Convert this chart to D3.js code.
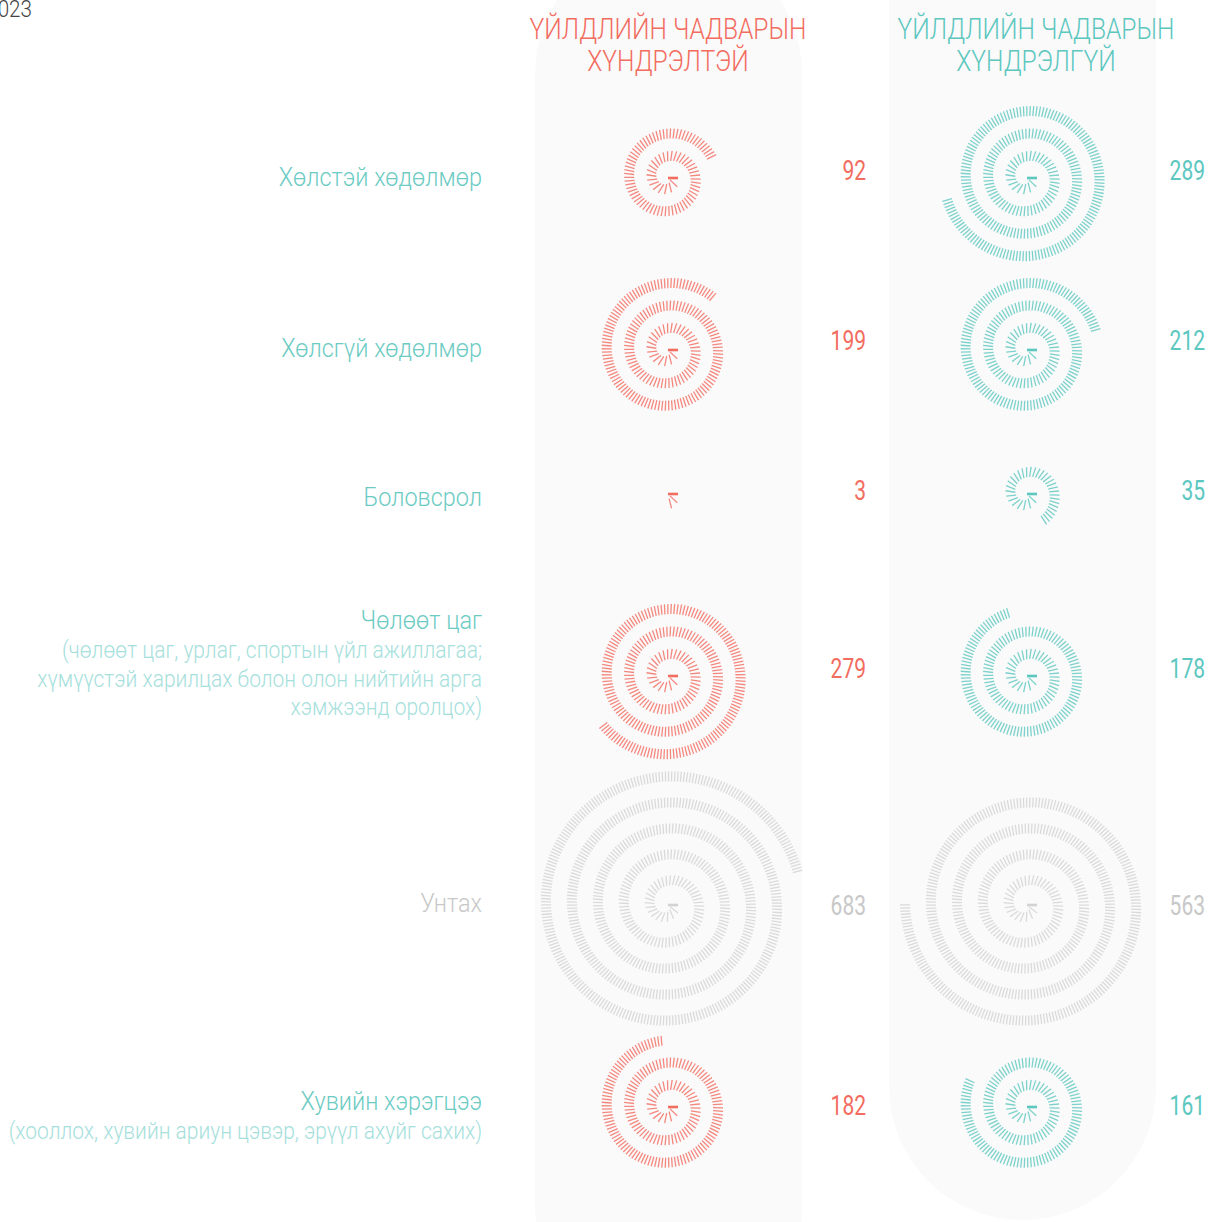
<!DOCTYPE html>
<html><head><meta charset="utf-8">
<script src="https://cdn.jsdelivr.net/npm/d3@7"></script>
<style>body{margin:0;background:#fff}svg{display:block}</style>
</head><body>
<svg id="c" width="1209" height="1222"></svg>
<script>
// ---------- data ----------
const categories = ["Хөлстэй хөдөлмөр", "Хөлсгүй хөдөлмөр", "Боловсрол", "Чөлөөт цаг", "Унтах", "Хувийн хэрэгцээ"];
const subtitles = [[], [], [], ["(чөлөөт цаг, урлаг, спортын үйл ажиллагаа;", "хүмүүстэй харилцах болон олон нийтийн арга", "хэмжээнд оролцох)"], [], ["(хооллох, хувийн ариун цэвэр, эрүүл ахуйг сахих)"]];
const seriesNames = [["ҮЙЛДЛИЙН ЧАДВАРЫН", "ХҮНДРЭЛТЭЙ"], ["ҮЙЛДЛИЙН ЧАДВАРЫН", "ХҮНДРЭЛГҮЙ"]];
const withDifficulty = [92, 199, 3, 279, 683, 182];
const withoutDifficulty = [289, 212, 35, 178, 563, 161];
const yearLabel = "2023";

// ---------- layout / style ----------
const rowY = [178, 350, 494, 676, 905, 1107];
const labelY = [186, 357, 506, 629, 912, 1110];
const numY = [180, 350, 500, 678, 915, 1115];
const colX = [668, 1027];
const headX = [668, 1036];
const numX = [866, 1205];
const labelX = 482;
const colors = ["#f26c60", "#5cc7bf"];
const grey = "#d2d2d2";
const greyText = "#c8c8c8";
const tealText = "#6ccbc3";
const tealSub = "#a6e0dc";
const font = "Roboto, 'Noto Sans', sans-serif";
const tickGap = 2.96;          // arc distance between ticks (px)
const ringGap = 22.5;          // distance between spiral turns (px)
const ringGapSleep = 26;       // wider turns for the sleep row
const tickLen = 10;

const svg = d3.select("#c");

// background panels
svg.append("rect").attr("x", 535).attr("y", -60).attr("width", 267).attr("height", 1400)
  .attr("rx", 133.5).attr("fill", "#fafafa");
svg.append("rect").attr("x", 889).attr("y", -200).attr("width", 267).attr("height", 1420)
  .attr("rx", 133.5).attr("fill", "#fafafa");

// scales
const yRow = d3.scaleOrdinal().domain(categories).range(rowY);
const xCol = d3.scaleOrdinal().domain([0, 1]).range(colX);

// Archimedean spiral r = b*theta, ticks at equal arc length
function spiralAngle(L, b) {
  if (L <= 0) return 0;
  let t = Math.sqrt(2 * L / b);
  for (let k = 0; k < 30; k++) {
    const f = (b / 2) * (t * Math.sqrt(1 + t * t) + Math.asinh(t)) - L;
    const fp = b * Math.sqrt(1 + t * t);
    t -= f / fp;
    if (t < 0) t = 1e-4;
  }
  return t;
}

function txt(x, y, sx) {
  return svg.append("text").attr("transform", `translate(${x},${y}) scale(${sx},1)`)
    .attr("font-family", font);
}

// year label (clipped at the left edge as in the original)
txt(32, 17, 0.86).attr("text-anchor", "end").attr("font-weight", 300).attr("font-size", 24)
  .attr("fill", "#444").text(yearLabel);

// headers
seriesNames.forEach((lines, ci) => {
  lines.forEach((t, li) => {
    txt(headX[ci], 39 + li * 32, 0.848).attr("text-anchor", "middle")
      .attr("font-weight", 300).attr("font-size", 29)
      .attr("fill", colors[ci]).text(t);
  });
});

// rows
const series = [withDifficulty, withoutDifficulty];
categories.forEach((cat, ri) => {
  const isSleep = ri === 4;
  txt(labelX, labelY[ri], 0.92).attr("text-anchor", "end")
    .attr("font-weight", 300).attr("font-size", 25.5)
    .attr("fill", isSleep ? greyText : tealText).text(cat);
  subtitles[ri].forEach((s, si) => {
    txt(labelX, labelY[ri] + 29 + si * 28.5, 0.912).attr("text-anchor", "end")
      .attr("font-weight", 300).attr("font-size", 23)
      .attr("fill", tealSub).text(s);
  });

  series.forEach((vals, ci) => {
    const n = vals[ri];
    const col = isSleep ? grey : colors[ci];
    const b = (isSleep ? ringGapSleep : ringGap) / (2 * Math.PI);
    const g = svg.append("g").attr("transform", `translate(${xCol(ci)},${yRow(cat)})`);
    const ticks = d3.range(n).map(i => {
      const th = spiralAngle(i * tickGap, b);
      return { i, th, r: b * th };
    });
    g.selectAll("line").data(ticks).join("line")
      .attr("x1", d => d.r * Math.cos(d.th))
      .attr("y1", d => d.r * Math.sin(d.th))
      .attr("x2", d => (d.r + tickLen) * Math.cos(d.th))
      .attr("y2", d => (d.r + tickLen) * Math.sin(d.th))
      .attr("stroke", col)
      .attr("stroke-width", d => d.i === 0 ? 2.6 : 1.3)
      .attr("stroke-opacity", d => d.i === 0 ? 1 : 0.8);

    txt(numX[ci], numY[ri], 0.75).attr("text-anchor", "end")
      .attr("font-weight", 400).attr("font-size", 28)
      .attr("fill", isSleep ? greyText : colors[ci]).text(n);
  });
});
</script>
</body></html>
